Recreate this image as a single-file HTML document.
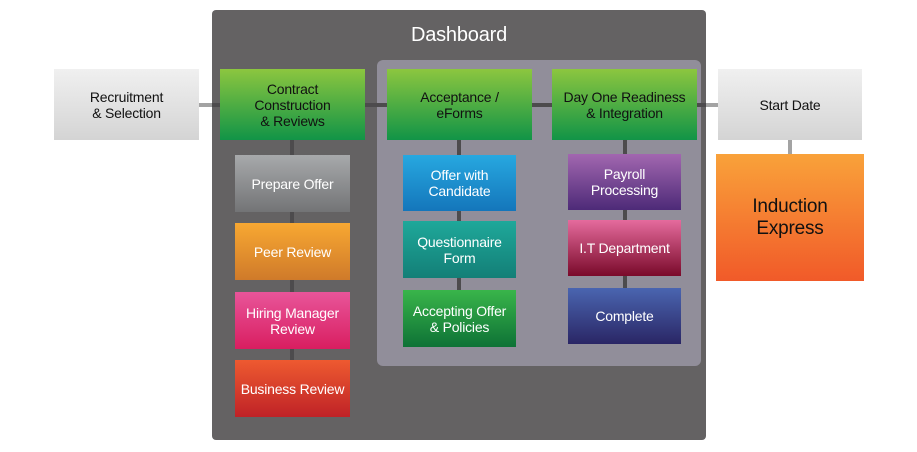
<!DOCTYPE html>
<html><head><style>
body{margin:0;width:917px;height:452px;background:#fff;position:relative;overflow:hidden;font-family:"Liberation Sans",sans-serif}
div{position:absolute;box-sizing:border-box}
.b{display:flex;align-items:center;justify-content:center;text-align:center;font-size:14px;line-height:16px;color:#fff;letter-spacing:-0.2px}
.g{background:linear-gradient(#8cc63f,#119447);color:#111}
.l{background:#4d4b4d}
</style></head><body>
<div style="left:199px;top:103px;width:520px;height:4px;background:#a3a3a3"></div>
<div style="left:788px;top:140px;width:4px;height:15px;background:#a3a3a3"></div>
<div style="left:212px;top:10px;width:494px;height:430px;background:#646263;border-radius:4px"></div>
<div class="b" style="left:212px;top:20px;width:494px;height:30px;font-size:20px;color:#fff">Dashboard</div>
<div style="left:377px;top:60px;width:324px;height:306px;background:#918e9a;border-radius:6px"></div>
<div class="l" style="left:212px;top:103px;width:494px;height:4px"></div>
<div class="l" style="left:290px;top:140px;width:4px;height:220px"></div>
<div class="l" style="left:457px;top:140px;width:4px;height:150px"></div>
<div class="l" style="left:623px;top:140px;width:4px;height:150px"></div>
<div class="b" style="left:54px;top:69px;width:145px;height:71px;background:linear-gradient(#f0f0f0,#d4d4d4);color:#111">Recruitment<br>&amp; Selection</div>
<div class="b" style="left:718px;top:69px;width:144px;height:71px;background:linear-gradient(#f0f0f0,#d4d4d4);color:#111">Start Date</div>
<div class="b" style="left:716px;top:154px;width:148px;height:127px;background:linear-gradient(#f9a23a,#f15a29);color:#111;font-size:19px;line-height:22px">Induction<br>Express</div>
<div class="b g" style="left:220px;top:69px;width:145px;height:71px">Contract<br>Construction<br>&amp; Reviews</div>
<div class="b g" style="left:387px;top:69px;width:145px;height:71px">Acceptance /<br>eForms</div>
<div class="b g" style="left:552px;top:69px;width:145px;height:71px">Day One Readiness<br>&amp; Integration</div>
<div class="b" style="left:235px;top:155px;width:115px;height:57px;background:linear-gradient(#a7a9ab,#737476)">Prepare Offer</div>
<div class="b" style="left:235px;top:223px;width:115px;height:57px;background:linear-gradient(#f8a832,#cf7a2a)">Peer Review</div>
<div class="b" style="left:235px;top:292px;width:115px;height:57px;background:linear-gradient(#e8559a,#d91e60)">Hiring Manager<br>Review</div>
<div class="b" style="left:235px;top:360px;width:115px;height:57px;background:linear-gradient(#ee5a30,#bf2227)">Business Review</div>
<div class="b" style="left:403px;top:155px;width:113px;height:56px;background:linear-gradient(#27a8e0,#1476bb)">Offer with<br>Candidate</div>
<div class="b" style="left:403px;top:221px;width:113px;height:57px;background:linear-gradient(#1fa89a,#137f77)">Questionnaire<br>Form</div>
<div class="b" style="left:403px;top:290px;width:113px;height:57px;background:linear-gradient(#39b54a,#0e7236)">Accepting Offer<br>&amp; Policies</div>
<div class="b" style="left:568px;top:154px;width:113px;height:56px;background:linear-gradient(#a267b0,#4d2a78)">Payroll<br>Processing</div>
<div class="b" style="left:568px;top:220px;width:113px;height:56px;background:linear-gradient(#e56b9d,#7a0a2a)">I.T Department</div>
<div class="b" style="left:568px;top:288px;width:113px;height:56px;background:linear-gradient(#4a65b0,#2a2665)">Complete</div>
</body></html>
